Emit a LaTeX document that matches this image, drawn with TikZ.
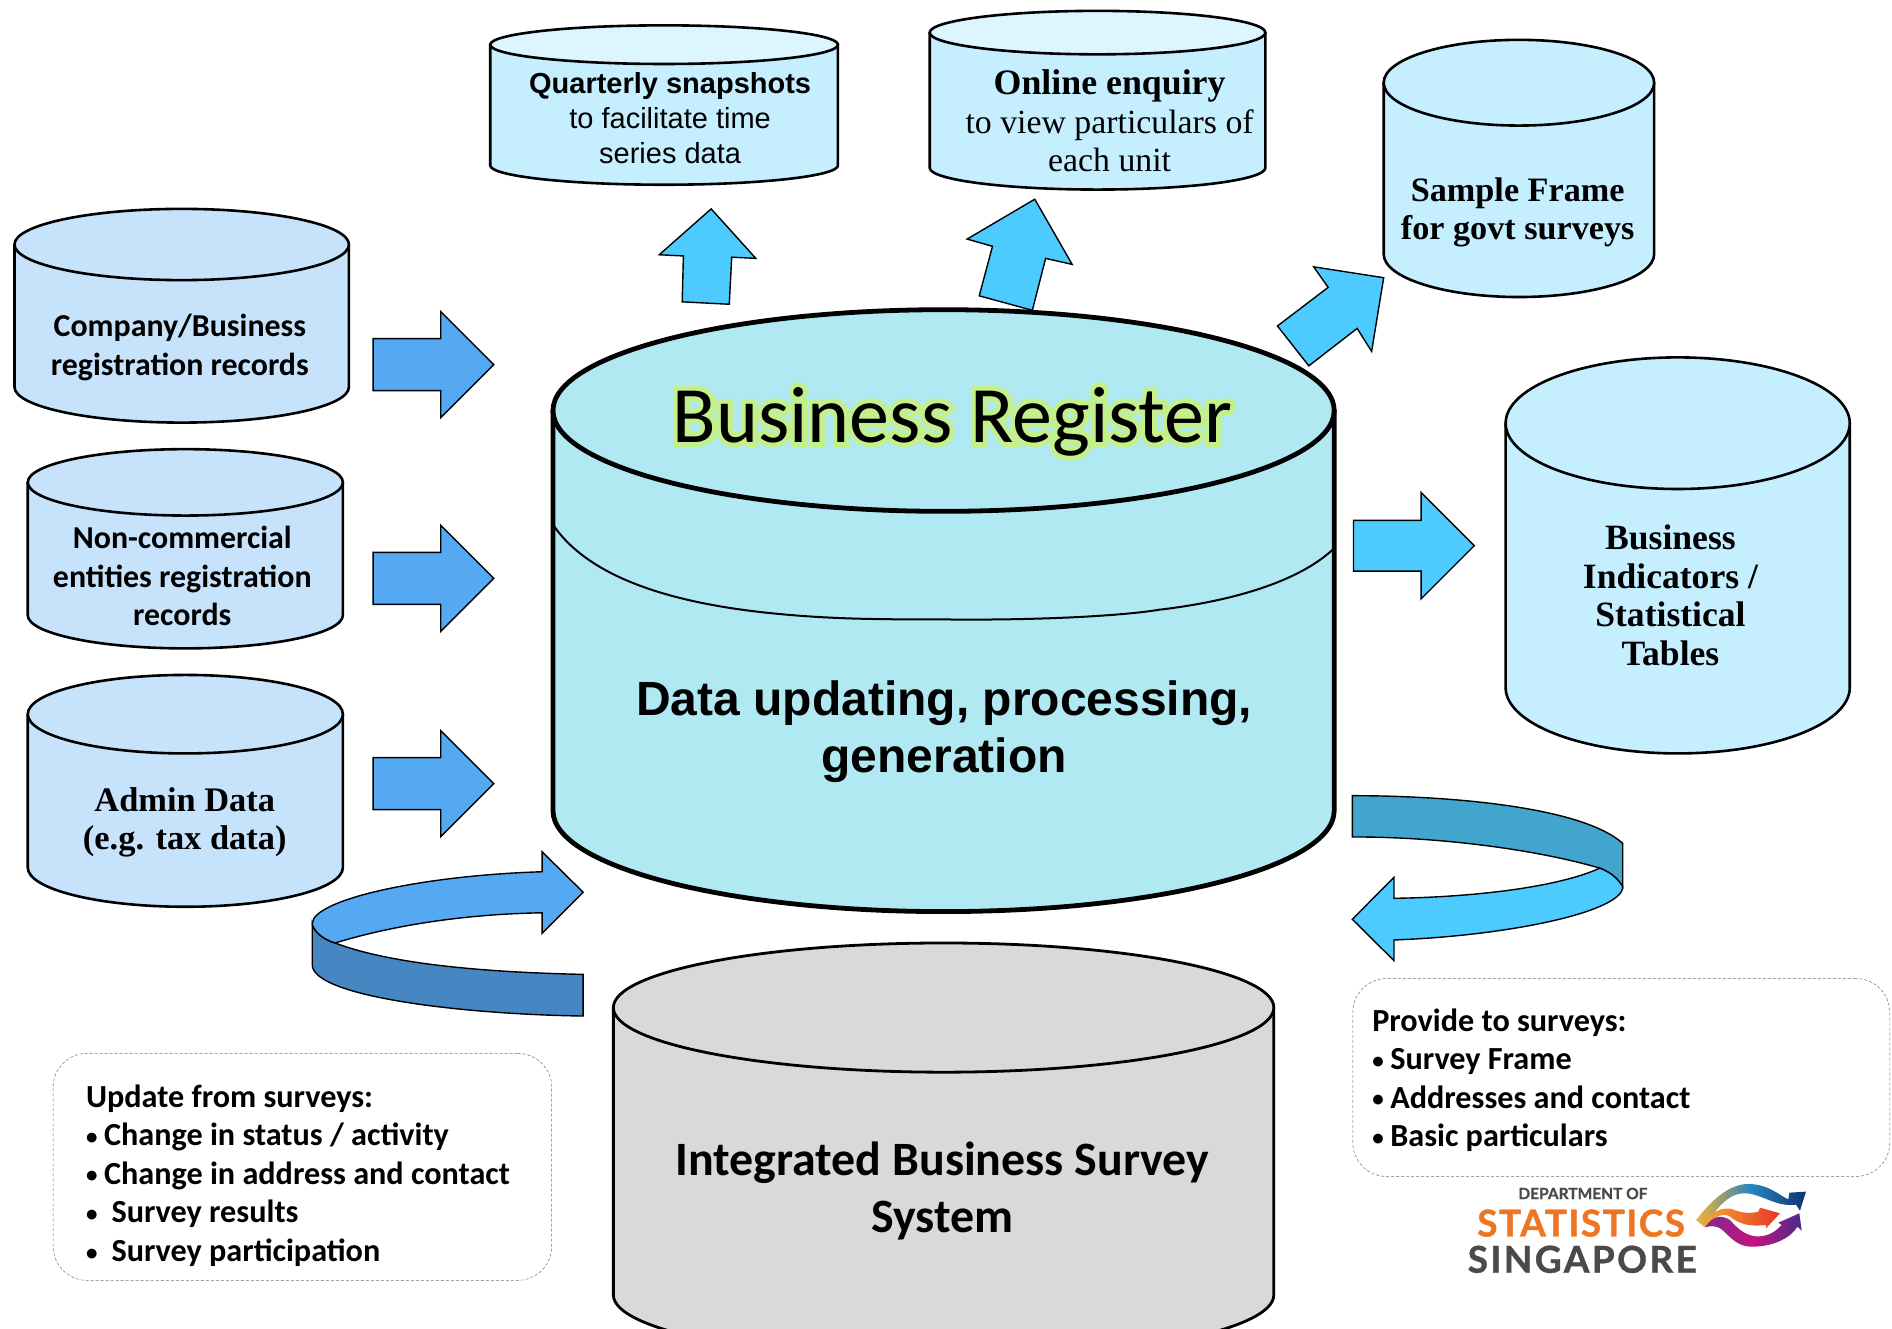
\documentclass[tikz,border=0pt]{standalone}
\usepackage{fontspec}
\setmainfont{Liberation Serif}
\newfontfamily\calfont{Carlito}
\newfontfamily\arlfont{Liberation Sans}
\newfontfamily\latfont[FakeBold=1]{Lato Bold}
\newfontfamily\glowfont[FakeBold=12]{Carlito}
\definecolor{lblue}{HTML}{C7E3FB}
\definecolor{cblue}{HTML}{C5EFFF}
\definecolor{ctop}{HTML}{DCF5FF}
\definecolor{brc}{HTML}{B1E9F3}
\definecolor{grayc}{HTML}{D9D9D9}
\definecolor{arrA}{HTML}{55A8F2}
\definecolor{arrAd}{HTML}{4686C2}
\definecolor{arrB}{HTML}{4DCBFF}
\definecolor{arrBd}{HTML}{41A5CE}
\definecolor{glowc}{HTML}{C4F08C}
\definecolor{logoor}{HTML}{EE7623}
\definecolor{logogr}{HTML}{4A4A4D}
\definecolor{lgA}{HTML}{F7B233}
\definecolor{lgB}{HTML}{2585C0}
\definecolor{lgC}{HTML}{10336E}
\definecolor{lgD}{HTML}{F4A62E}
\definecolor{lgE}{HTML}{E8352A}
\definecolor{lgF}{HTML}{7D2A90}
\definecolor{lgG}{HTML}{C8127E}
\definecolor{lgH}{HTML}{4B2A8C}
\newcommand\cyl[8]{%
 \pgfmathsetmacro\cylcx{(#1+#2)/2}%
 \pgfmathsetmacro\cylkx{0.5523*(#2-#1)/2}%
 \pgfmathsetmacro\cylky{0.5523*#4}%
 \pgfmathsetmacro\cylcb{#5-#4}%
 \draw[line width=#8,fill=#6,line join=round]
   (#1,#3) -- (#1,\cylcb) .. controls (#1,\cylcb+\cylky) and (\cylcx-\cylkx,#5) .. (\cylcx,#5)
   .. controls (\cylcx+\cylkx,#5) and (#2,\cylcb+\cylky) .. (#2,\cylcb) -- (#2,#3) -- cycle;
 \draw[line width=#8,fill=#7]
   (#1,#3) .. controls (#1,#3-\cylky) and (\cylcx-\cylkx,#3-#4) .. (\cylcx,#3-#4)
   .. controls (\cylcx+\cylkx,#3-#4) and (#2,#3-\cylky) .. (#2,#3)
   .. controls (#2,#3+\cylky) and (\cylcx+\cylkx,#3+#4) .. (\cylcx,#3+#4)
   .. controls (\cylcx-\cylkx,#3+#4) and (#1,#3+\cylky) .. (#1,#3) -- cycle;
}
\newcommand\smbul{\makebox[18pt][l]{\raisebox{1.5pt}{\fontsize{23}{23}\selectfont•}}}
\newcommand\smbulw{\makebox[25.4pt][l]{\raisebox{1.5pt}{\fontsize{23}{23}\selectfont•}}}
\tikzset{
  blockarrow/.style={draw=black,line width=1.4pt,line join=miter,miter limit=10},
  cylcal/.style={align=center,inner sep=0pt,font=\calfont\bfseries\fontsize{31.9}{38.5}\selectfont},
  cylserif/.style={align=center,inner sep=0pt,font=\bfseries\fontsize{34.2}{38.5}\selectfont},
  cylserifb/.style={align=center,inner sep=0pt,font=\bfseries\fontsize{35.6}{38.5}\selectfont},
  infobox/.style={draw=black!55,densely dashed,line width=0.5pt,rounded corners=34pt,inner ysep=0pt,
     align=left,font=\calfont\bfseries\fontsize{32.2}{38.6}\selectfont},
}
\begin{document}
\begin{tikzpicture}[x=1.2074pt,y=-1.2074pt]
\clip (0,0) rectangle (1567,1099.9);
% cylinders
\cyl{12}{289}{202.5}{29.5}{350}{lblue}{lblue}{2.6pt}
\cyl{23}{284}{399.5}{27.5}{537}{lblue}{lblue}{2.6pt}
\cyl{23}{284}{591.5}{32.5}{751}{lblue}{lblue}{2.6pt}
\cyl{406}{694}{37}{16}{153}{cblue}{ctop}{2.6pt}
\cyl{770}{1048}{27}{18}{157}{cblue}{ctop}{2.6pt}
\cyl{1146}{1370}{68.5}{35.5}{246}{cblue}{cblue}{2.6pt}
\cyl{1247}{1532}{350.5}{54.5}{624}{cblue}{cblue}{2.6pt}
\cyl{508}{1055}{834.5}{53.5}{1126}{grayc}{grayc}{2.8pt}
\cyl{458}{1105}{340}{83.5}{755}{brc}{brc}{4.8pt}
\draw[line width=2pt] (459,436) .. controls (490,480) and (560,500) .. (640,508)
   .. controls (690,513) and (730,513) .. (780,513) .. controls (860,514) and (930,510) .. (960,505)
   .. controls (1020,498) and (1075,482) .. (1104,455);
% straight block arrows
\foreach \c in {302,479,649}{
 \draw[blockarrow,fill=arrA] (309,\c-21.5) -- (365,\c-21.5) -- (365,\c-44) -- (409,\c) -- (365,\c+44) -- (365,\c+21.5) -- (309,\c+21.5) -- cycle;
}
\draw[blockarrow,fill=arrB] (1121,431) -- (1177,431) -- (1177,408) -- (1221,452) -- (1177,496) -- (1177,473) -- (1121,473) -- cycle;
\draw[blockarrow,fill=arrB] (589,173) -- (626,214) -- (606,213) -- (604,252) -- (565,250) -- (566,212) -- (546,211) -- cycle;
\draw[blockarrow,fill=arrB] (857,165) -- (888,219) -- (866,214) -- (855,257) -- (811,245) -- (822,204) -- (801,198) -- cycle;
\draw[blockarrow,fill=arrB] (1146,230) -- (1136,291) -- (1124,272) -- (1084,303) -- (1058,270) -- (1100,238) -- (1088,221) -- cycle;
% curved left arrow
\draw[blockarrow,fill=arrAd] (258.6,765) -- (258.6,799) .. controls (258.6,825) and (380,840) .. (483,841.5) -- (483,807)
  .. controls (390,805) and (320,797) .. (277.5,781) .. controls (268,778) and (260,772) .. (258.6,765) -- cycle;
\draw[blockarrow,fill=arrA] (258.6,765) .. controls (258.6,745) and (350,725) .. (449,722) -- (449,705.5) -- (483,739) -- (449,773) -- (449,756)
  .. controls (390,757) and (330,765) .. (277.5,781) .. controls (268,778) and (260,772) .. (258.6,765) -- cycle;
% curved right arrow
\draw[blockarrow,fill=arrBd] (1120,659) .. controls (1200,659) and (1310,668) .. (1344,698.5) -- (1344,734.4)
  .. controls (1340,728) and (1335,723) .. (1325,719) .. controls (1270,703) and (1190,693) .. (1120,693.2) -- cycle;
\draw[blockarrow,fill=arrB] (1154.5,744) .. controls (1220,743) and (1290,735) .. (1325,719)
  .. controls (1335,723) and (1340,728) .. (1344,734.4) .. controls (1344,755) and (1250,775) .. (1154.5,778.5)
  -- (1154.5,795.6) -- (1120,761.4) -- (1154.5,726.6) -- cycle;
% labels
\node[cylcal] (company) at (149,288) {Company/Business\\registration records};
\node[cylcal] (noncomm) at (151,477) {Non-commercial\\entities registration\\records};
\node[align=center,inner sep=0pt,font=\bfseries\fontsize{34.4}{38.5}\selectfont] (admin) at (153,681) {Admin Data\\(e.g. tax data)};
\node[align=center,inner sep=0pt,font=\arlfont\fontsize{29}{35}\selectfont] (quarterly) at (555,98) {\textbf{Quarterly snapshots}\\to facilitate time\\series data};
\node[align=center,inner sep=0pt,font=\fontsize{33.8}{38.5}\selectfont] (online) at (919,100.3) {\textbf{\fontsize{35.8}{38.5}\selectfont Online enquiry}\\to view particulars of\\each unit};
\node[cylserif] (sample) at (1257,176) {Sample Frame\\for govt surveys};
\node[cylserifb] (indicators) at (1383.5,493) {Business\\Indicators /\\Statistical\\Tables};
\node[inner sep=0pt,font=\fontsize{80}{90}\selectfont] (brtitle) at (789,349)
  {\rlap{\glowfont\color{glowc}Business Register}{\calfont Business Register}};
\node[align=center,inner sep=0pt,font=\arlfont\bfseries\fontsize{48}{57}\selectfont] (dataup) at (782,606) {Data updating, processing,\\generation};
\node[align=center,inner sep=0pt,font=\calfont\bfseries\fontsize{47.9}{57}\selectfont] (ibss) at (780.5,986.5) {Integrated Business Survey\\System};
% info boxes
\node[infobox,anchor=north west,minimum height=227pt,text width=432.6pt,inner xsep=33pt] (updbox) at (43.8,872.2)
 {\spaceskip=.226em\relax\rule{0pt}{40pt}Update from surveys:\\\smbul Change in status / activity\\\smbul Change in address and contact\\\smbulw Survey results\\\smbulw Survey participation};
\node[infobox,anchor=north west,minimum height=198pt,text width=498pt,inner xsep=19.5pt] (provbox) at (1120.2,810.2)
 {\spaceskip=.226em\relax\rule{0pt}{28pt}Provide to surveys:\\\smbul Survey Frame\\\smbul Addresses and contact\\\smbul Basic particulars};
% logo
\node[inner sep=0pt,text=logogr,font=\latfont\fontsize{15.5}{18}\selectfont] (logodept) at (1311,988.5) {DEPARTMENT OF};
\node[inner sep=0pt,text=logoor,font=\latfont\fontsize{37}{40}\selectfont] (logostat) at (1309.5,1013) {\addfontfeature{LetterSpace=4}STATISTICS};
\node[inner sep=0pt,text=logogr,font=\latfont\fontsize{37}{40}\selectfont] (logosing) at (1310.5,1043) {\addfontfeature{LetterSpace=6.5}SINGAPORE};
\begin{scope}[shift={(1391.4,969)},scale=0.2761]
\shade[left color=lgA,right color=lgC,middle color=lgB]
 (48,150) .. controls (100,85) and (150,40) .. (210,42) .. controls (270,45) and (300,78) .. (325,88) -- (328,68) -- (378,65) -- (360,122) -- (348,104)
 .. controls (290,112) and (250,75) .. (200,70) .. controls (150,66) and (110,110) .. (75,172) -- cycle;
\shade[left color=lgD,right color=lgE]
 (75,170) .. controls (85,130) and (120,110) .. (155,117) .. controls (190,132) and (215,130) .. (235,125) -- (240,113) -- (300,130) -- (258,175) -- (258,165)
 .. controls (215,170) and (180,165) .. (150,140) .. controls (130,128) and (110,135) .. (75,170) -- cycle;
\shade[left color=lgF,right color=lgH,middle color=lgG]
 (75,172) .. controls (100,135) and (125,135) .. (150,150) .. controls (180,185) and (210,205) .. (250,198) .. controls (280,192) and (295,175) .. (305,165) -- (295,158) -- (358,130) -- (365,182) -- (352,170)
 .. controls (330,208) and (270,232) .. (210,230) .. controls (170,228) and (150,200) .. (125,178) .. controls (105,165) and (90,168) .. (75,172) -- cycle;
\end{scope}
\end{tikzpicture}
\end{document}
